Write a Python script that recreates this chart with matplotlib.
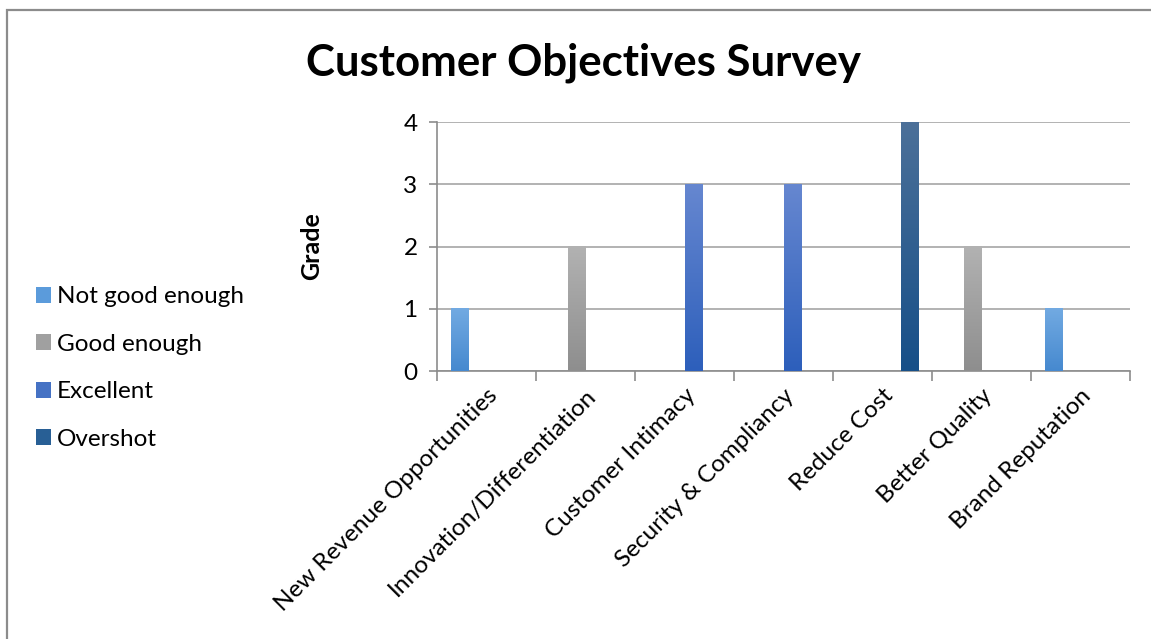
import numpy as np
import matplotlib
matplotlib.use("Agg")
import matplotlib.pyplot as plt
from matplotlib.colors import LinearSegmentedColormap
from matplotlib.patches import Patch, Rectangle

categories = ["New Revenue Opportunities", "Innovation/Differentiation",
              "Customer Intimacy", "Security & Compliancy", "Reduce Cost",
              "Better Quality", "Brand Reputation"]
series_names = ["Not good enough", "Good enough", "Excellent", "Overshot"]
not_good_enough = [1, 0, 0, 0, 0, 0, 1]
good_enough = [0, 2, 0, 0, 0, 2, 0]
excellent = [0, 0, 3, 3, 0, 0, 0]
overshot = [0, 0, 0, 0, 4, 0, 0]
y_ticks = [0, 1, 2, 3, 4]

series_values = [not_good_enough, good_enough, excellent, overshot]
# (top colour, bottom colour) of each series' vertical gradient
gradients = [("#72aae2", "#4689cf"),
             ("#b2b2b2", "#8e8e8e"),
             ("#6687d0", "#2d5fbb"),
             ("#4c7099", "#164f88")]
legend_colors = ["#5b9bdb", "#a0a0a0", "#4572c4", "#285f95"]

FONT = "Lato"
plt.rcParams["font.family"] = [FONT, "DejaVu Sans"]
FS = 17.5

W, H = 1151, 639
fig = plt.figure(figsize=(W / 100, H / 100), dpi=100)

# chart frame
fig.patches.append(Rectangle((7 / W, -0.05), 1.2, 1 - 10 / H + 0.05,
                             transform=fig.transFigure, fill=False,
                             edgecolor="#8c8c8c", linewidth=1.6))

left, right, top, bottom = 437, 1130, 122, 371
ax = fig.add_axes([left / W, 1 - bottom / H, (right - left) / W, (bottom - top) / H])

n_series = len(series_values)
gap = 1.5
bar_w = 1.0 / (n_series + gap)
x = np.arange(len(categories))
for i, vals in enumerate(series_values):
    offs = x - 0.5 + (gap / 2 + 0.5) * bar_w + i * bar_w
    bars = ax.bar(offs, vals, width=bar_w, color="none", linewidth=0, zorder=3)
    cmap = LinearSegmentedColormap.from_list(series_names[i],
                                             [gradients[i][1], gradients[i][0]])
    grad = np.linspace(0, 1, 256).reshape(-1, 1)
    for b in bars:
        h = b.get_height()
        if h <= 0:
            continue
        x0 = b.get_x()
        ax.imshow(grad, extent=(x0, x0 + b.get_width(), 0, h), origin="lower",
                  cmap=cmap, aspect="auto", zorder=3, interpolation="bilinear")

ax.set_xlim(-0.5, len(categories) - 0.5)
ax.set_ylim(0, 4)
ax.set_yticks(y_ticks)
ax.set_yticklabels([str(t) for t in y_ticks], fontsize=FS)
ax.yaxis.grid(True, color="#a6a6a6", linewidth=1.2, zorder=0)
ax.set_axisbelow(True)

ax.set_xticks(np.arange(len(categories) + 1) - 0.5, minor=False)
ax.set_xticklabels([])
ax.set_xticks(x, minor=True)
ax.set_xticklabels(categories, minor=True, rotation=45, ha="right", va="top",
                   rotation_mode="anchor", fontsize=FS)
ax.tick_params(axis="x", which="minor", length=0, pad=10)
ax.tick_params(axis="x", which="major", length=7, color="#8c8c8c", width=1.2)
ax.tick_params(axis="y", length=6, color="#8c8c8c", width=1.2, pad=8)

for s in ["top", "right"]:
    ax.spines[s].set_visible(False)
for s in ["left", "bottom"]:
    ax.spines[s].set_color("#8c8c8c")
    ax.spines[s].set_linewidth(1.2)

ax.set_ylabel("Grade", fontsize=18, fontweight="bold")
ax.yaxis.set_label_coords((323 - left) / (right - left), 0.5)

fig.text(583 / W, 1 - 63 / H, "Customer Objectives Survey", fontsize=31.5,
         fontweight="bold", ha="center", va="center")

handles = [Patch(facecolor=c, edgecolor="none") for c in legend_colors]
fig.legend(handles, series_names, loc="center left",
           bbox_to_anchor=(14 / W, 1 - 368 / H), frameon=False, fontsize=FS,
           handlelength=0.62, handleheight=0.62, handletextpad=0.25,
           labelspacing=1.09)

fig.savefig("out.png", dpi=100)
